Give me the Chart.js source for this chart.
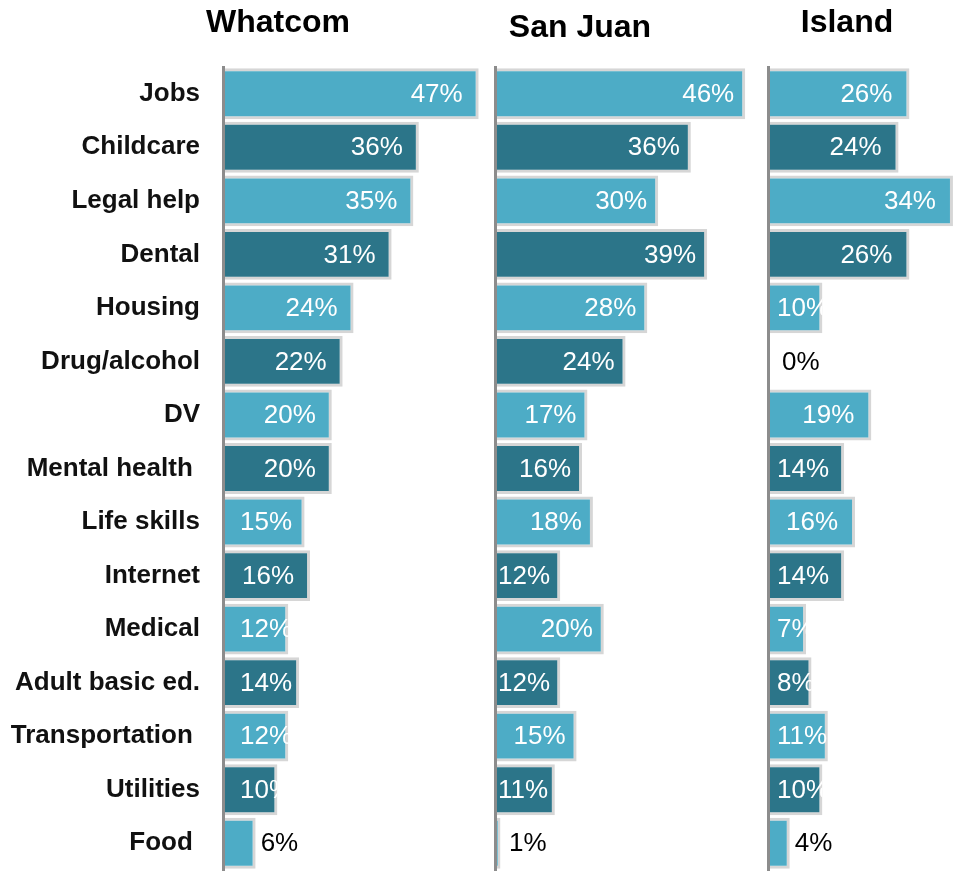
<!DOCTYPE html>
<html lang="en">
<head>
    <meta charset="UTF-8" />
    <title>Service needs by county</title>
    <script src="https://cdn.jsdelivr.net/npm/chart.js"></script>
    <style>
        html, body {
            margin: 0;
            padding: 0;
            background: #fff;
            overflow: hidden;
        }
        .panel {
            position: absolute;
            top: 0;
        }
    </style>
</head>
<body>
    <canvas id="whatcom" class="panel" width="495" height="871" style="left:0px"></canvas>
    <canvas id="sanjuan" class="panel" width="274" height="871" style="left:493px"></canvas>
    <canvas id="island" class="panel" width="274" height="871" style="left:766px"></canvas>

    <script>
        const categories = ['Jobs', 'Childcare', 'Legal help', 'Dental', 'Housing', 'Drug/alcohol', 'DV',
            'Mental health ', 'Life skills', 'Internet', 'Medical', 'Adult basic ed.', 'Transportation ',
            'Utilities', 'Food '];
        const countyNames = ['Whatcom', 'San Juan', 'Island'];
        const whatcomValues = [47, 36, 35, 31, 24, 22, 20, 20, 15, 16, 12, 14, 12, 10, 6];
        const sanJuanValues = [46, 36, 30, 39, 28, 24, 17, 16, 18, 12, 20, 12, 15, 11, 1];
        const islandValues = [26, 24, 34, 26, 10, 0, 19, 14, 16, 14, 7, 8, 11, 10, 4];

        const LIGHT = '#4dacc6';
        const DARK = '#2c7589';
        const FONT = '"Liberation Sans", Arial, sans-serif';

        // rows alternate light / dark
        const barColors = categories.map((c, i) => i % 2 === 0 ? LIGHT : DARK);

        // county name above each panel
        const titlePlugin = {
            id: 'countyTitle',
            afterDraw(chart, args, opts) {
                const ctx = chart.ctx;
                ctx.save();
                ctx.font = 'bold 32px ' + FONT;
                ctx.fillStyle = '#000';
                ctx.textAlign = 'center';
                ctx.textBaseline = 'alphabetic';
                ctx.fillText(opts.text, opts.x, opts.y);
                ctx.restore();
            }
        };

        // percentage labels: white inside the bar, black after it when the bar is too short
        const valueLabels = {
            id: 'valueLabels',
            afterDatasetsDraw(chart, args, opts) {
                const ctx = chart.ctx;
                const meta = chart.getDatasetMeta(0);
                const data = chart.data.datasets[0].data;
                ctx.save();
                ctx.font = '26px ' + FONT;
                ctx.textBaseline = 'middle';
                ctx.textAlign = 'left';
                meta.data.forEach((bar, i) => {
                    const txt = data[i] + '%';
                    const tw = ctx.measureText(txt).width;
                    const len = bar.x - bar.base;
                    const h = bar.height;
                    if (len >= tw) {
                        const x = Math.max(bar.base + opts.startPad, bar.x - opts.endPad - tw);
                        ctx.save();
                        ctx.beginPath();
                        ctx.rect(bar.base, bar.y - h / 2, len, h);
                        ctx.clip();
                        ctx.fillStyle = '#fff';
                        ctx.fillText(txt, x, bar.y + 1);
                        ctx.restore();
                    } else {
                        const x = Math.max(bar.x + 5, bar.base + 14);
                        ctx.fillStyle = '#000';
                        ctx.fillText(txt, x, bar.y + 1);
                    }
                });
                ctx.restore();
            }
        };

        function makePanel(id, values, title, showLabels, labelOpts) {
            return new Chart(document.getElementById(id), {
                type: 'bar',
                data: {
                    labels: categories,
                    datasets: [{
                        data: values,
                        backgroundColor: barColors,
                        borderColor: '#d6d6d6',
                        borderWidth: 3,
                        borderSkipped: 'start',
                        categoryPercentage: 1,
                        barPercentage: 0.95
                    }]
                },
                options: {
                    indexAxis: 'y',
                    responsive: false,
                    animation: false,
                    devicePixelRatio: 1,
                    layout: { padding: { top: 67, bottom: 1, left: 0, right: 0 } },
                    scales: {
                        x: {
                            display: false,
                            min: 0,
                            max: 50
                        },
                        y: {
                            grid: { display: false, drawTicks: false },
                            // axis line sits over the bar bases
                            border: { display: true, color: '#8c8c8c', width: 3, z: 1 },
                            ticks: {
                                display: showLabels,
                                padding: 23,
                                color: '#111',
                                font: { family: FONT, size: 26, weight: 'bold' }
                            },
                            afterFit(scale) {
                                scale.width = showLabels ? 223 : 2;
                                // keep the label half-heights from shrinking the plot area
                                scale.paddingTop = 0;
                                scale.paddingBottom = 0;
                            }
                        }
                    },
                    plugins: {
                        legend: { display: false },
                        tooltip: { enabled: false },
                        countyTitle: title,
                        valueLabels: labelOpts
                    }
                },
                plugins: [titlePlugin, valueLabels]
            });
        }

        makePanel('whatcom', whatcomValues, { text: countyNames[0], x: 278, y: 32 }, true, { endPad: 16, startPad: 17 });
        makePanel('sanjuan', sanJuanValues, { text: countyNames[1], x: 87, y: 37 }, false, { endPad: 11, startPad: 3 });
        makePanel('island', islandValues, { text: countyNames[2], x: 81, y: 32 }, false, { endPad: 17, startPad: 9 });
    </script>
</body>
</html>
